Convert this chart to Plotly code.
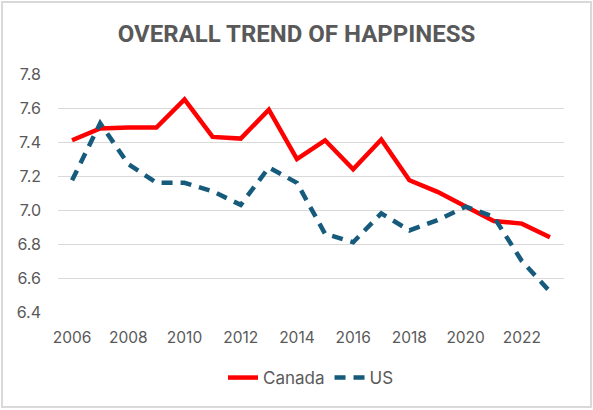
import plotly.graph_objects as go

years = [str(y) for y in range(2006, 2024)]
canada = [7.41, 7.48, 7.485, 7.485, 7.65, 7.43, 7.42, 7.59, 7.30, 7.41, 7.24, 7.415, 7.175, 7.107, 7.02, 6.935, 6.92, 6.84]
us = [7.175, 7.51, 7.27, 7.16, 7.16, 7.11, 7.03, 7.25, 7.16, 6.86, 6.81, 6.98, 6.88, 6.94, 7.02, 6.96, 6.70, 6.52]
tick_years = [str(y) for y in range(2006, 2024, 2)]
y_ticks = [6.4, 6.6, 6.8, 7.0, 7.2, 7.4, 7.6, 7.8]

grey = "#595959"
fig = go.Figure()
fig.add_trace(go.Scatter(x=years, y=canada, mode="lines", name="Canada",
                         line=dict(color="#FF0000", width=4.5)))
fig.add_trace(go.Scatter(x=years, y=us, mode="lines", name="US",
                         line=dict(color="#165B7C", width=4.5, dash="11px,8px")))

fig.update_layout(
    width=593, height=410,
    paper_bgcolor="white", plot_bgcolor="white",
    margin=dict(l=58, r=29, t=74, b=98, autoexpand=False),
    title=dict(text="<b>OVERALL TREND OF HAPPINESS</b>", x=0.5, xanchor="center",
               y=1 - 34 / 410, yanchor="middle",
               font=dict(family="Roboto, Inter, sans-serif", size=24, color=grey)),
    font=dict(family="Inter, Roboto, sans-serif", color=grey, size=15),
    xaxis=dict(type="category", range=[-0.5, 17.5], tickvals=tick_years, ticktext=tick_years,
               showgrid=False, showline=False, ticks="", ticklabelstandoff=14, automargin=False,
               tickfont=dict(size=15.5, color=grey)),
    yaxis=dict(range=[6.4, 7.8], tickvals=y_ticks, ticktext=[f"{v:.1f}" for v in y_ticks],
               showgrid=True, gridcolor="#D9D9D9", gridwidth=1.3, zeroline=False,
               showline=False, ticks="", ticklabelstandoff=16, automargin=False,
               tickfont=dict(size=16, color=grey)),
    legend=dict(orientation="h", x=0.5, xanchor="center", y=-(377.7 - 311.7) / 238, yanchor="middle",
                font=dict(size=17, color=grey), bgcolor="rgba(0,0,0,0)"),
    showlegend=True,
)
fig.add_shape(type="rect", xref="paper", yref="paper",
              x0=(2 - 58) / 506, x1=(591 - 58) / 506, y0=(312 - 407) / 238, y1=(312 - 2) / 238,
              line=dict(color="#D9D9D9", width=2), fillcolor="rgba(0,0,0,0)", layer="above")
fig.write_html("out.html", config={"displayModeBar": False},
               post_script="document.body.style.margin='0';document.body.style.overflow='hidden';")
